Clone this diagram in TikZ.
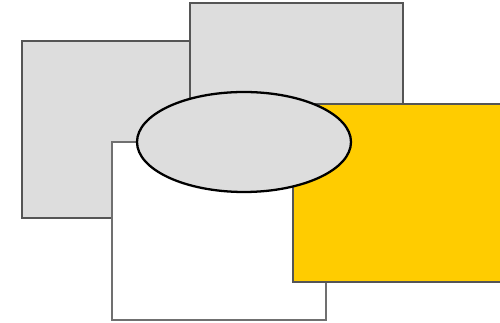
\documentclass[tikz,border=0pt]{standalone}
\definecolor{boxgray}{HTML}{DDDDDD}
\definecolor{edgegray}{HTML}{555555}
\definecolor{lightedge}{HTML}{707070}
\definecolor{gold}{HTML}{FFCC00}
\tikzset{
  panel/.style={fill=boxgray, draw=edgegray, line width=1.1pt},
  blank/.style={fill=white, draw=lightedge, line width=1.1pt},
  golden/.style={fill=gold, draw=edgegray, line width=1.1pt},
  blob/.style={fill=boxgray, draw=black, line width=1.3pt}
}
\begin{document}
\begin{tikzpicture}[x=0.02cm, y=-0.02cm]
  \useasboundingbox (0,0) rectangle (500,323);
  \clip (0,0) rectangle (500,323);
  % rectangles, back to front
  \draw[panel] (22,41) rectangle (235,218);
  \draw[panel] (190,3) rectangle (403,181);
  \draw[blank] (112,142) rectangle (326,320);
  \draw[golden] (293,104) rectangle (506,282);
  % ellipse on top
  \draw[blob] (244,142) ellipse [x radius=107, y radius=50];
\end{tikzpicture}
\end{document}
